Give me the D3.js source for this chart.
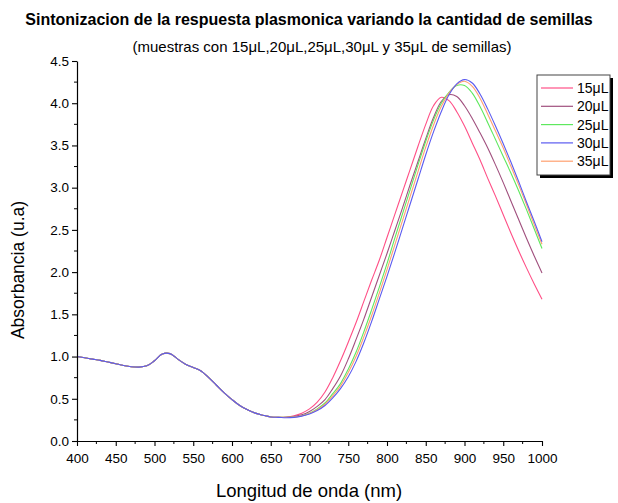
<!DOCTYPE html>
<html><head><meta charset="utf-8">
<script src="https://cdn.jsdelivr.net/npm/d3@7"></script>
<style>body{margin:0;background:#fff}svg{display:block}text{font-family:"Liberation Sans",Arial,sans-serif;fill:#000}</style>
</head><body><svg id="c" width="618" height="503"></svg>
<script>
const wavelengths = d3.range(400, 1001, 10);
const common = [1.00,0.985,0.97,0.955,0.935,0.915,0.895,0.88,0.875,0.89,0.95,1.03,1.035,0.97,0.91,0.87,0.83,0.75,0.66,0.57,0.49,0.42,0.37,0.33,0.305,0.285];
const tail15 = [0.28,0.285,0.30,0.33,0.38,0.46,0.58,0.75,0.95,1.17,1.40,1.65,1.90,2.14,2.41,2.68,2.95,3.22,3.49,3.75,3.97,4.07,4.03,3.90,3.73,3.53,3.33,3.11,2.90,2.68,2.46,2.25,2.05,1.86,1.68];
const tail20 = [0.28,0.28,0.29,0.31,0.35,0.41,0.49,0.62,0.77,0.97,1.20,1.44,1.70,1.96,2.22,2.49,2.76,3.04,3.31,3.58,3.83,4.02,4.10,4.08,3.97,3.82,3.65,3.47,3.27,3.06,2.84,2.62,2.40,2.19,1.99];
const tail25 = [0.28,0.28,0.285,0.30,0.33,0.38,0.45,0.56,0.68,0.85,1.05,1.29,1.55,1.82,2.10,2.40,2.69,2.98,3.27,3.55,3.80,4.00,4.13,4.21,4.21,4.12,3.96,3.77,3.57,3.37,3.17,2.96,2.74,2.51,2.28];
const tail30 = [0.28,0.275,0.28,0.295,0.32,0.36,0.42,0.51,0.62,0.76,0.94,1.16,1.41,1.68,1.95,2.23,2.52,2.81,3.10,3.39,3.66,3.90,4.10,4.23,4.28,4.24,4.11,3.93,3.73,3.52,3.30,3.07,2.83,2.60,2.36];
const tail35 = [0.28,0.278,0.283,0.298,0.325,0.37,0.435,0.535,0.65,0.81,1.00,1.23,1.48,1.75,2.03,2.32,2.61,2.90,3.19,3.48,3.74,3.96,4.12,4.22,4.26,4.20,4.06,3.87,3.67,3.47,3.25,3.03,2.80,2.56,2.33];
const seriesNames = ["15\u03bcL","20\u03bcL","25\u03bcL","30\u03bcL","35\u03bcL"];
const seriesColors = ["#ff4f86","#a0507e","#5ee85e","#5a5af0","#ffa070"];
const seriesValues = [tail15,tail20,tail25,tail30,tail35].map(t => common.concat(t));
const xTicks = d3.range(400, 1001, 50);
const yTicks = d3.range(0, 4.51, 0.5);

const svg = d3.select("#c");
const x = d3.scaleLinear().domain([400,1000]).range([77,542]);
const y = d3.scaleLinear().domain([0,4.5]).range([441,61]);

svg.append("text").attr("x",309).attr("y",25).attr("text-anchor","middle")
  .style("font-weight","bold").style("font-size","16px")
  .text("Sintonizacion de la respuesta plasmonica variando la cantidad de semillas");
svg.append("text").attr("x",322).attr("y",52).attr("text-anchor","middle")
  .style("font-size","15px")
  .text("(muestras con 15\u03bcL,20\u03bcL,25\u03bcL,30\u03bcL y 35\u03bcL de semillas)");

const line = d3.line().x((d,i)=>x(wavelengths[i])).y(d=>y(d)).curve(d3.curveCatmullRom);
const order = [0,1,2,4,3];
order.forEach(k => {
  svg.append("path").attr("d", line(seriesValues[k])).attr("fill","none")
    .attr("stroke", seriesColors[k]).attr("stroke-width",1.1);
});

// axes
const xAxis = svg.append("g").attr("transform","translate(0,441)");
xAxis.call(d3.axisBottom(x).tickValues(xTicks).tickFormat(d3.format("d")).tickSize(5).tickSizeOuter(0));
xAxis.append("g").selectAll("line").data(d3.range(425,1000,50)).join("line")
  .attr("x1",d=>x(d)).attr("x2",d=>x(d)).attr("y1",0).attr("y2",3).attr("stroke","#000");
const yAxis = svg.append("g").attr("transform","translate(77,0)");
yAxis.call(d3.axisLeft(y).tickValues(yTicks).tickFormat(d3.format(".1f")).tickSize(5).tickSizeOuter(0));
yAxis.append("g").selectAll("line").data(d3.range(0.25,4.5,0.5)).join("line")
  .attr("y1",d=>y(d)).attr("y2",d=>y(d)).attr("x1",0).attr("x2",-3).attr("stroke","#000");
[xAxis,yAxis].forEach(g=>{
  g.selectAll("text").style("font-size","13.5px").style("font-family","'Liberation Sans',Arial,sans-serif").attr("fill","#222");
  g.select(".domain").attr("stroke","#000").attr("stroke-width",1.2);
  g.selectAll(".tick line").attr("stroke","#000").attr("stroke-width",1.1);
});
xAxis.selectAll(".tick text").attr("dy","1.05em");

svg.append("text").attr("transform","translate(24,270) rotate(-90)").attr("text-anchor","middle")
  .style("font-size","17.5px").text("Absorbancia (u.a)");
svg.append("text").attr("x",309).attr("y",497).attr("text-anchor","middle")
  .style("font-size","18.5px").text("Longitud de onda (nm)");

// legend
const lg = svg.append("g");
lg.append("rect").attr("x",540).attr("y",78).attr("width",73).attr("height",100).attr("fill","#000");
lg.append("rect").attr("x",537).attr("y",75).attr("width",73).attr("height",100).attr("fill","#fff").attr("stroke","#444").attr("stroke-width",1);
seriesNames.forEach((n,i)=>{
  const yy = 88 + i*18.3;
  lg.append("line").attr("x1",541).attr("x2",573).attr("y1",yy).attr("y2",yy).attr("stroke",seriesColors[i]).attr("stroke-width",1.2);
  lg.append("text").attr("x",577).attr("y",yy+5).style("font-size","14px").text(n);
});
</script></body></html>
